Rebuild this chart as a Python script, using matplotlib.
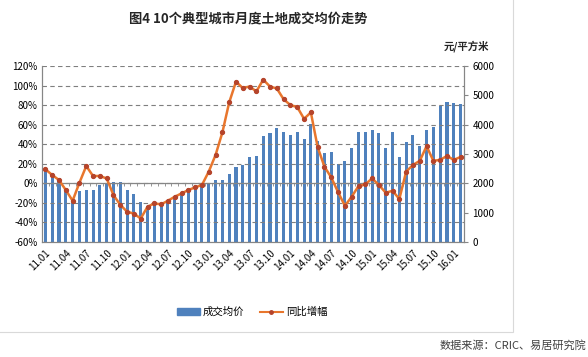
import matplotlib
matplotlib.use('Agg')
import matplotlib.pyplot as plt
from matplotlib.patches import Rectangle
from matplotlib.lines import Line2D

plt.rcParams['font.family'] = ['Noto Sans CJK SC', 'DejaVu Sans']

# months 11.01 .. 16.02
months = [f'{y:02d}.{m:02d}' for y in range(11, 17) for m in range(1, 13)][:62]
tick_labels = months[::3][:21]

# 成交均价 (元/平方米)
avg_price = [2500, 2350, 2170, 1780, 1420, 1730, 1770, 1770, 1950, 2020,
             2050, 2040, 1770, 1630, 1375, 1220, 1270, 1260, 1380, 1520,
             1680, 1773, 1864, 1930, 2010, 2114, 2114, 2318, 2568, 2625,
             2887, 2940, 3614, 3705, 3875, 3761, 3640, 3761, 3510, 4023,
             3450, 3030, 3070, 2659, 2773, 3200, 3739, 3739, 3830, 3716,
             3200, 3739, 2898, 3398, 3655, 3261, 3830, 3920, 4625, 4775,
             4730, 4716]

# 同比增幅 (%)
yoy = [14.4, 8.5, 3.4, -6.9, -17.8, 0.6, 17.7, 7.5, 7.5, 5.0,
       -12.0, -22.0, -29.0, -31.0, -36.0, -24.0, -20.5, -21.5, -17.8, -13.7,
       -10.3, -6.9, -4.1, -1.7, 12.0, 29.0, 52.0, 82.7, 104.0, 97.4,
       99.0, 94.0, 106.0, 99.0, 97.0, 86.0, 80.0, 78.0, 66.0, 72.5,
       37.0, 17.0, 6.0, -9.0, -23.0, -13.7, -2.8, -1.0, 5.0, -1.7,
       -9.6, -7.6, -16.0, 12.0, 18.8, 23.0, 38.0, 23.0, 24.0, 28.0,
       24.0, 27.0]

x = list(range(len(months)))
bar_color = '#4F81BD'
line_color = '#E8762D'
axis_gray = '#868686'

fig = plt.figure(figsize=(5.88, 3.57), dpi=100)

# light chart frame
fig.patches.append(Rectangle((-0.01, 25 / 357), 519 / 588, 1.0,
                             transform=fig.transFigure, fill=False,
                             edgecolor='#D9D9D9', linewidth=0.8))

ax = fig.add_axes([42 / 588, 115 / 357, 422 / 588, 176 / 357])
ax2 = ax.twinx()

# bars on the right axis
ax.bar(x, avg_price, width=0.45, color=bar_color, zorder=2)
ax.set_ylim(0, 6000)
ax.set_yticks(range(0, 6001, 1000))
ax.yaxis.tick_right()
ax.yaxis.set_label_position('right')
ax.tick_params(axis='y', labelsize=7, length=3, color=axis_gray, pad=3)
ax.set_xlim(-0.5, len(months) - 0.5)
ax.set_xticks(x[::3][:21])
ax.set_xticklabels(tick_labels, rotation=45, ha='right',
                   rotation_mode='anchor', fontsize=7)
ax.tick_params(axis='x', length=0, pad=4)

# line on the left axis
ax2.yaxis.tick_left()
ax2.plot(x, yoy, color=line_color, linewidth=1.8, marker='o',
         markersize=2.8, markerfacecolor='#B5442B',
         markeredgecolor='#B5442B', zorder=3)
ax2.set_ylim(-60, 120)
ax2.set_yticks(range(-60, 121, 20))
ax2.set_yticklabels([f'{v}%' for v in range(-60, 121, 20)])
ax2.tick_params(axis='y', labelsize=7, length=0, pad=3)
ax2.grid(axis='y', color='#7F7F7F', linestyle=(0, (4, 3)), linewidth=0.8)

# category axis at 0% with tick marks between months
ax2.axhline(0, color=axis_gray, linewidth=0.9, zorder=2.5)
ax2.vlines([i - 0.5 for i in x[1:]], -2.5, 0, color=axis_gray,
           linewidth=0.6, zorder=2.5)

for a in (ax, ax2):
    a.spines['top'].set_visible(False)
    a.spines['left'].set_color(axis_gray)
    a.spines['right'].set_color(axis_gray)
    a.spines['bottom'].set_color(axis_gray)

fig.text(248 / 588, 1 - 19 / 357, '图4 10个典型城市月度土地成交均价走势',
         ha='center', va='center', fontsize=9.5, fontweight='bold',
         color='#262626')
fig.text(466 / 588, 1 - 46 / 357, '元/平方米', ha='center', va='center',
         fontsize=7.5, fontweight='bold', color='#262626')

handles = [Rectangle((0, 0), 1, 1, color=bar_color),
           Line2D([], [], color=line_color, linewidth=1.5, marker='o',
                  markersize=2.5, markerfacecolor='#B5442B',
                  markeredgecolor='#B5442B')]
fig.legend(handles, ['成交均价', '同比增幅'], loc='center',
           bbox_to_anchor=(252 / 588, 1 - 312 / 357), ncol=2,
           frameon=False, fontsize=7.5, handlelength=2.2,
           handleheight=0.6, columnspacing=1.5, handletextpad=0.3)

fig.text(586 / 588, 1 - 345 / 357, '数据来源：CRIC、易居研究院',
         ha='right', va='center', fontsize=8, color='#404040')

fig.savefig('out.png', dpi=100)
